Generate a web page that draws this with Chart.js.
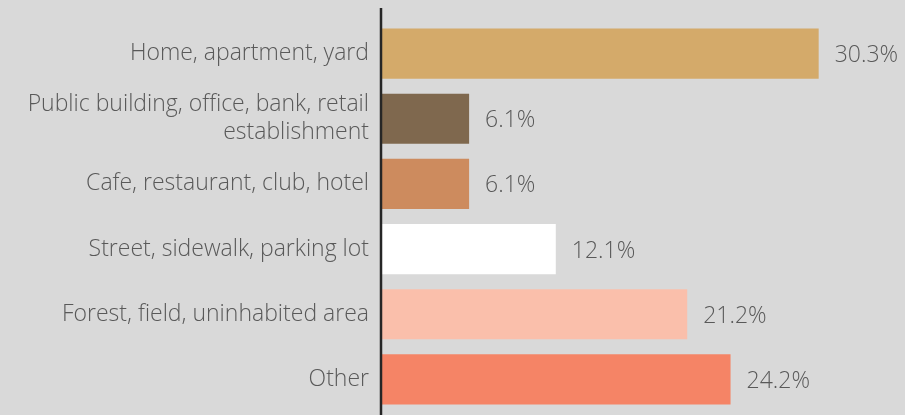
<!DOCTYPE html>
<html>
<head>
<meta charset="utf-8">
<script src="https://cdn.jsdelivr.net/npm/chart.js@4/dist/chart.umd.min.js"></script>
<style>
  html, body { margin: 0; padding: 0; background: #d9d9d9; }
  #wrap { width: 905px; height: 415px; }
</style>
</head>
<body>
<div id="wrap"><canvas id="myChart"></canvas></div>
<script>
const places = [
	'Home, apartment, yard',
	['Public building, office, bank, retail', 'establishment'],
	'Cafe, restaurant, club, hotel',
	'Street, sidewalk, parking lot',
	'Forest, field, uninhabited area',
	'Other'
];
const shares = [30.3, 6.1, 6.1, 12.1, 21.2, 24.2];
const barColors = ['#d4aa6a', '#7f684e', '#cd8b5e', '#ffffff', '#fabfab', '#f58466'];

const labelFont = { family: 'Open Sans', size: 23, weight: '300', lineHeight: 1.2 };
const textColor = '#595959';

// value text to the right of each bar, plus the tall axis line
const valueLabels = {
	id: 'valueLabels',
	afterDatasetsDraw(chart) {
		const ctx = chart.ctx;
		const meta = chart.getDatasetMeta(0);
		ctx.save();
		ctx.font = `${labelFont.weight} ${labelFont.size}px ${labelFont.family}`;
		ctx.fillStyle = textColor;
		ctx.textBaseline = 'middle';
		ctx.textAlign = 'left';
		meta.data.forEach((bar, i) => {
			ctx.fillText(shares[i].toFixed(1) + '%', bar.x + 16, bar.y + 2);
		});
		const x = chart.scales.x.left;
		ctx.strokeStyle = '#262626';
		ctx.lineWidth = 2.5;
		ctx.beginPath();
		ctx.moveTo(x, chart.chartArea.top - 13);
		ctx.lineTo(x, chart.height);
		ctx.stroke();
		ctx.restore();
	}
};

new Chart(document.getElementById('myChart'), {
	type: 'bar',
	data: {
		labels: places,
		datasets: [
			{
				data: shares,
				backgroundColor: barColors,
				borderWidth: 0,
				barPercentage: 0.77,
				categoryPercentage: 1
			}
		]
	},
	options: {
		indexAxis: 'y',
		responsive: true,
		maintainAspectRatio: false,
		animation: false,
		layout: { padding: { top: 21, bottom: 3, right: 4, left: 0 } },
		plugins: {
			legend: { display: false },
			tooltip: { enabled: false }
		},
		scales: {
			x: {
				display: false,
				min: 0,
				max: 36
			},
			y: {
				afterFit(scale) {
					scale.width = 381;
					scale.paddingTop = 0;
					scale.paddingBottom = 0;
				},
				grid: { display: false },
				border: { display: false },
				ticks: {
					color: textColor,
					font: labelFont,
					padding: 4
				}
			}
		}
	},
	plugins: [valueLabels]
});
</script>
</body>
</html>
